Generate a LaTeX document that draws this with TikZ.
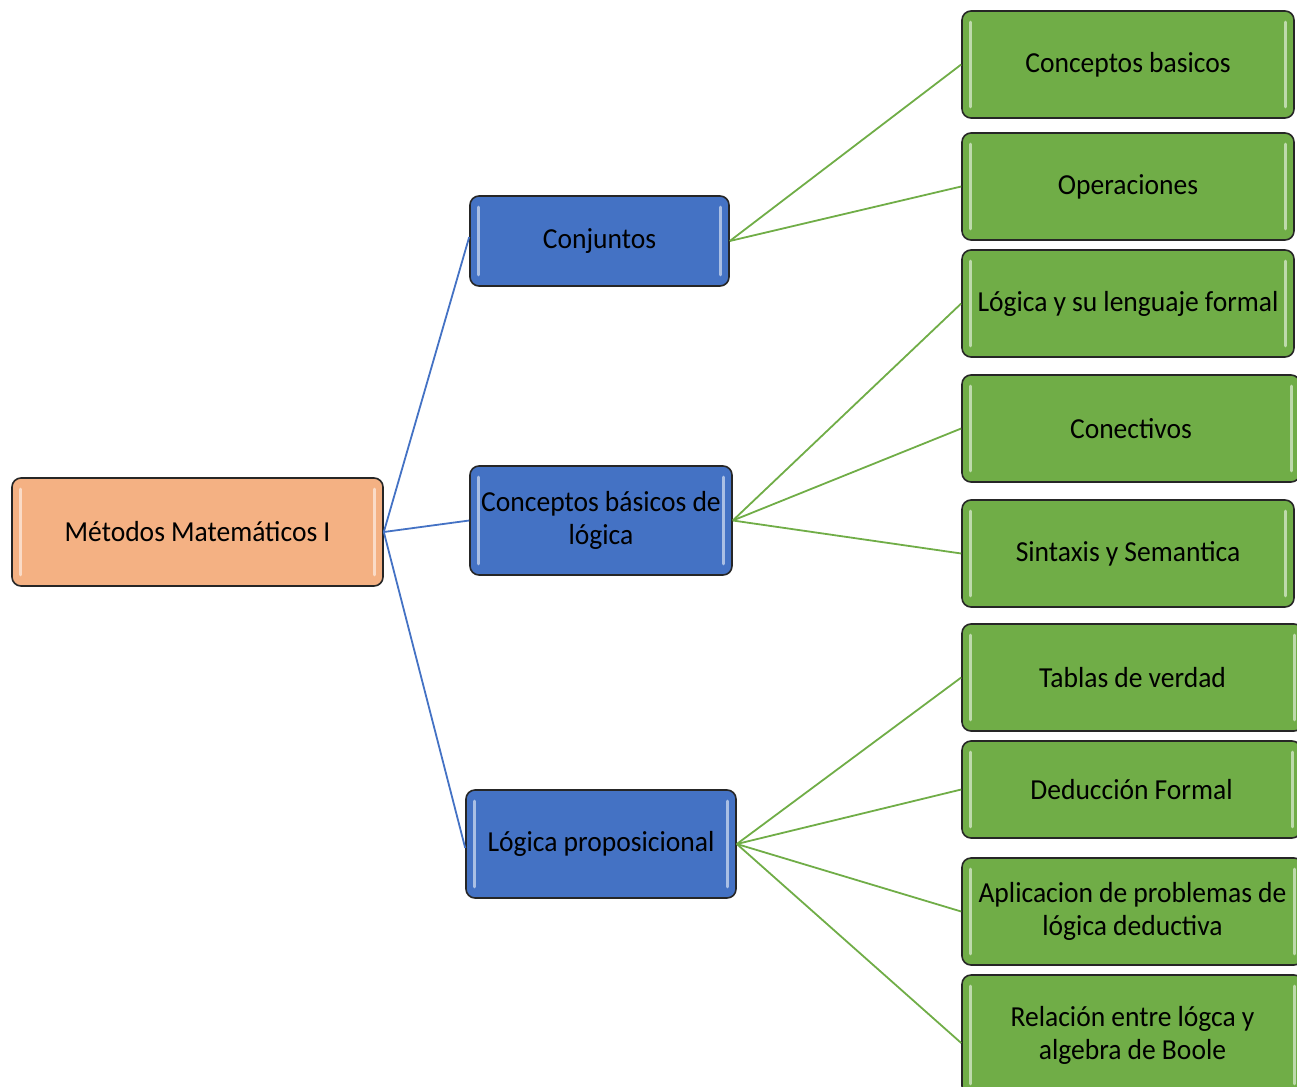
\documentclass[tikz,border=0pt]{standalone}
\usepackage{fontspec}
\setmainfont{Carlito}[FakeStretch=0.95]
\definecolor{corange}{HTML}{F4B183}
\definecolor{cblue}{HTML}{4472C4}
\definecolor{cgreen}{HTML}{70AD47}
\definecolor{cedge}{HTML}{262626}
\newcommand\tightsp{\spaceskip=0.21em\relax}
\begin{document}
\begin{tikzpicture}[x=1pt,y=-1pt,
  box/.style={draw=cedge,line width=1.6pt,rounded corners=9pt,inner sep=0pt,align=center,
    font=\fontsize{29}{33}\selectfont},
  rootbox/.style={box,fill=corange},
  bluebox/.style={box,fill=cblue},
  greenbox/.style={box,fill=cgreen},
  bluelink/.style={draw=cblue,line width=1.8pt},
  greenlink/.style={draw=cgreen,line width=1.8pt},
  stripe/.style={line width=3pt,line cap=round,draw=white,opacity=0.55}]
\useasboundingbox (0,0) rectangle (1297,1086);
\newcommand\mkbox[7]{% name style x1 y1 x2 y2 text
  \node[#2,minimum width={#5-#3},minimum height={#6-#4},text width={#5-#3-4}] (#1) at ({(#3+#5)/2},{(#4+#6)/2}) {\tightsp #7};
  \draw[stripe] ([xshift=9pt,yshift=-12pt]#1.north west) -- ([xshift=9pt,yshift=12pt]#1.south west);
  \draw[stripe] ([xshift=-9pt,yshift=-12pt]#1.north east) -- ([xshift=-9pt,yshift=12pt]#1.south east);
}
\mkbox{root}{rootbox}{12}{478}{383}{586}{Métodos Matemáticos I}
\mkbox{conj}{bluebox}{470}{196}{729}{286}{Conjuntos}
\mkbox{cbl}{bluebox}{470}{466}{732}{575}{Conceptos básicos de\\lógica}
\mkbox{lp}{bluebox}{466}{790}{736}{898}{Lógica proposicional}
\mkbox{g1}{greenbox}{962}{11}{1294}{118}{Conceptos basicos}
\mkbox{g2}{greenbox}{962}{133}{1294}{240}{Operaciones}
\mkbox{g3}{greenbox}{962}{250}{1294}{357}{Lógica y su lenguaje formal}
\mkbox{g4}{greenbox}{962}{375}{1300}{482}{Conectivos}
\mkbox{g5}{greenbox}{962}{500}{1294}{607}{Sintaxis y Semantica}
\mkbox{g6}{greenbox}{962}{624}{1303}{731}{Tablas de verdad}
\mkbox{g7}{greenbox}{962}{741}{1301}{838}{Deducción Formal}
\mkbox{g8}{greenbox}{962}{858}{1303}{965}{Aplicacion de problemas de\\lógica deductiva}
\mkbox{g9}{greenbox}{962}{975}{1303}{1095}{Relación entre lógca y\\algebra de Boole}
\draw[bluelink] (root.east) -- ([yshift=4pt]conj.west);
\draw[bluelink] (root.east) -- (cbl.west);
\draw[bluelink] (root.east) -- ([yshift=-4pt]lp.west);
\draw[greenlink] (conj.east) -- (g1.west);
\draw[greenlink] (conj.east) -- (g2.west);
\draw[greenlink] (cbl.east) -- (g3.west);
\draw[greenlink] (cbl.east) -- (g4.west);
\draw[greenlink] (cbl.east) -- (g5.west);
\draw[greenlink] (lp.east) -- (g6.west);
\draw[greenlink] (lp.east) -- (g7.west);
\draw[greenlink] (lp.east) -- (g8.west);
\draw[greenlink] (lp.east) -- ([yshift=-8pt]g9.west);
\end{tikzpicture}
\end{document}
